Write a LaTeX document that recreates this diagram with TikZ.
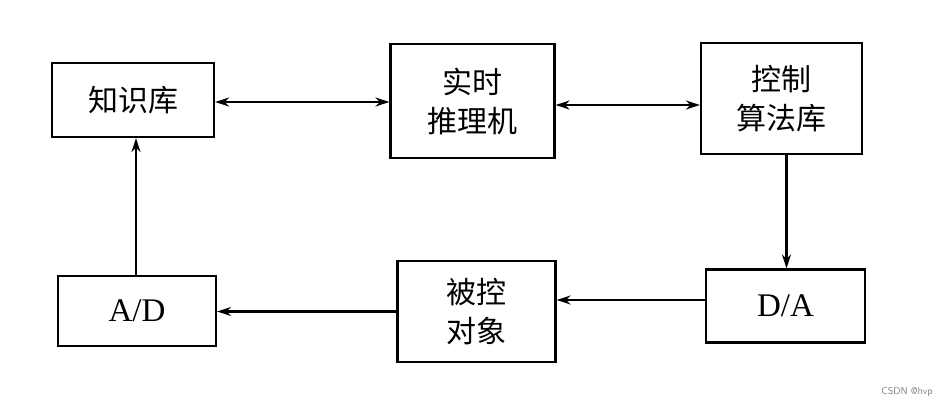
\documentclass[tikz,border=0pt]{standalone}
\usepackage{fontspec}
\setmainfont{Liberation Serif}
\newfontfamily\cjk{Noto Sans CJK SC}
\usetikzlibrary{arrows.meta}
\begin{document}
\begin{tikzpicture}[x=1pt,y=-1pt,
  blk/.style={draw,line width=2.2pt,inner sep=0pt,align=center,font=\cjk\fontsize{30}{39}\selectfont},
  conn/.style={line width=2.1pt,-{Stealth[length=14pt,width=9pt]}},
  both/.style={line width=2.1pt,{Stealth[length=14pt,width=9pt]}-{Stealth[length=14pt,width=9pt]}}]
\useasboundingbox (0,0) rectangle (948,407);
\fill[white] (0,0) rectangle (948,407);
\node[blk,minimum width=162pt,minimum height=74pt] (kb) at (133,100) {知识库};
\node[blk,minimum width=164pt,minimum height=114pt] (rt) at (472.5,101) {实时\\推理机};
\node[blk,minimum width=161pt,minimum height=111pt] (ca) at (781.5,98.5) {控制\\算法库};
\node[blk,minimum width=159pt,minimum height=73pt,font=\fontsize{33}{36}\selectfont] (da) at (785.5,306) {D/A};
\node[blk,minimum width=158pt,minimum height=101pt] (pl) at (476.5,311.5) {被控\\对象};
\node[blk,minimum width=158pt,minimum height=70pt,font=\fontsize{33}{36}\selectfont] (ad) at (137,311) {A/D};
\draw[both] ([yshift=-2pt]kb.east) -- ([yshift=-2pt]kb.east -| rt.west);
\draw[both] ([yshift=-4pt]rt.east) -- ([yshift=-4pt]rt.east -| ca.west);
\draw[conn] ([xshift=5pt]ca.south) -- ([xshift=5pt]ca.south |- da.north);
\draw[conn] ([yshift=6pt]da.west) -- ([yshift=6pt]da.west -| pl.east);
\draw[conn] (pl.west) -- (pl.west -| ad.east);
\draw[conn] ([xshift=-1pt]ad.north) -- ([xshift=-1pt]ad.north |- kb.south);
\node[font=\fontsize{10}{11}\sffamily,text=gray] (wm) at (907,392) {CSDN @hvp};
\end{tikzpicture}
\end{document}
